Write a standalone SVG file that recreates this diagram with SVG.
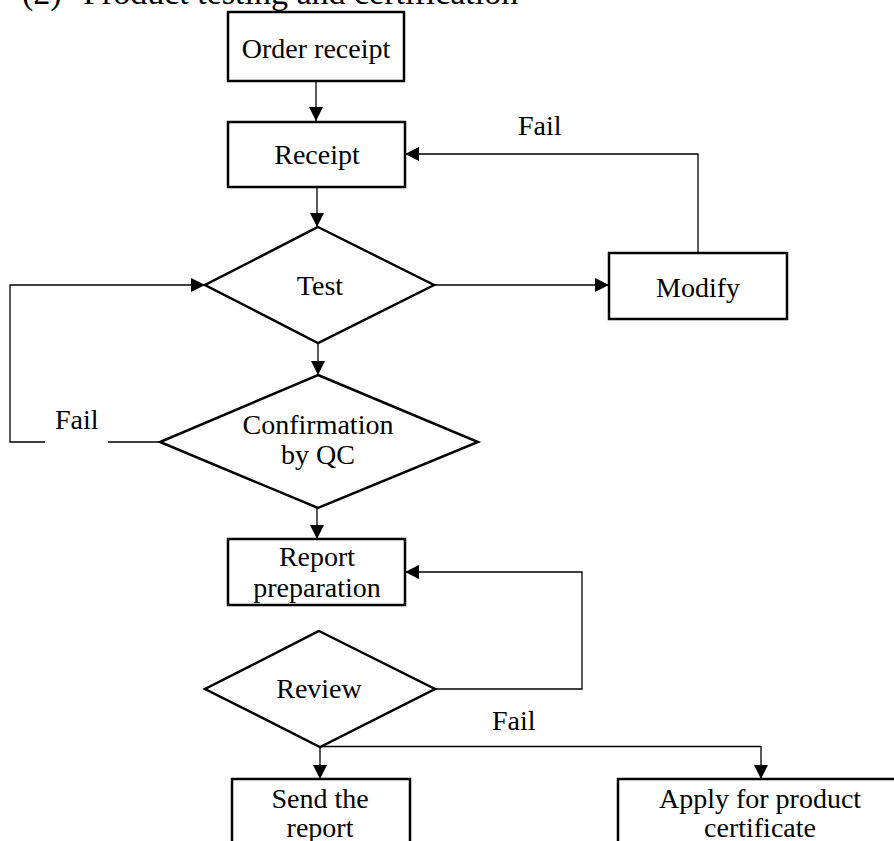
<svg xmlns="http://www.w3.org/2000/svg" width="894" height="841" viewBox="0 0 894 841">
<defs>
<marker id="arr" markerUnits="userSpaceOnUse" markerWidth="15" markerHeight="15" refX="14" refY="7" orient="auto">
<path d="M0,0 L14,7 L0,14 z" fill="#000"/>
</marker>
<style>
.box{fill:#fff;stroke:#000;stroke-width:2.5}
.dia{fill:#fff;stroke:#000;stroke-width:2.5}
.ln{fill:none;stroke:#000;stroke-width:1.3}
.ar{marker-end:url(#arr)}
text{font-family:"Liberation Serif","Times New Roman",serif;font-size:28px;fill:#000}
.c{text-anchor:middle}
.title{font-size:34px}
</style>
</defs>
<rect width="894" height="841" fill="#fff"/>
<g id="title">
<text class="title" x="22" y="4">(2)</text>
<text class="title" x="83" y="4">Product testing and certification</text>
</g>
<g id="connectors">
<path class="ln ar" d="M316,81 V121"/>
<path class="ln ar" d="M317,187 V227"/>
<path class="ln ar" d="M318,343 V375"/>
<path class="ln ar" d="M434,285 H609"/>
<path class="ln ar" d="M698,253 V154 H405"/>
<path class="ln ar" d="M160,442 H10 V285 H205"/>
<path class="ln ar" d="M317,508 V539"/>
<path class="ln ar" d="M435,689 H582 V572 H405"/>
<path class="ln ar" d="M320,747 V779"/>
<path class="ln ar" d="M320,746.5 H761 V779"/>
<rect x="45" y="405" width="63" height="38.5" fill="#fff"/>
<text x="55" y="429">Fail</text>
<text x="518" y="135">Fail</text>
<text x="492" y="730">Fail</text>
</g>
<g id="order-receipt">
<rect class="box" x="228" y="12" width="176" height="69"/>
<text class="c" x="316" y="58">Order receipt</text>
</g>
<g id="receipt">
<rect class="box" x="228" y="122" width="177" height="65"/>
<text class="c" x="317" y="164">Receipt</text>
</g>
<g id="test">
<polygon class="dia" points="318,227 434,285 318,343 205,285"/>
<text class="c" x="320" y="295">Test</text>
</g>
<g id="modify">
<rect class="box" x="609" y="253" width="178" height="66"/>
<text class="c" x="698" y="297">Modify</text>
</g>
<g id="confirmation">
<polygon class="dia" points="318,375 478,442 318,508 160,442"/>
<text class="c" x="318" y="434">Confirmation</text>
<text class="c" x="318" y="464">by QC</text>
</g>
<g id="report-preparation">
<rect class="box" x="228" y="539" width="177" height="66"/>
<text class="c" x="317" y="566">Report</text>
<text class="c" x="317" y="597">preparation</text>
</g>
<g id="review">
<polygon class="dia" points="319,631 435,689 320,747 205,689"/>
<text class="c" x="319" y="698">Review</text>
</g>
<g id="send-report">
<rect class="box" x="232" y="779" width="178" height="80"/>
<text class="c" x="320" y="808">Send the</text>
<text class="c" x="320" y="837">report</text>
</g>
<g id="apply-certificate">
<rect class="box" x="618" y="779" width="290" height="80"/>
<text class="c" x="760" y="808">Apply for product</text>
<text class="c" x="760" y="837">certificate</text>
</g>
</svg>
